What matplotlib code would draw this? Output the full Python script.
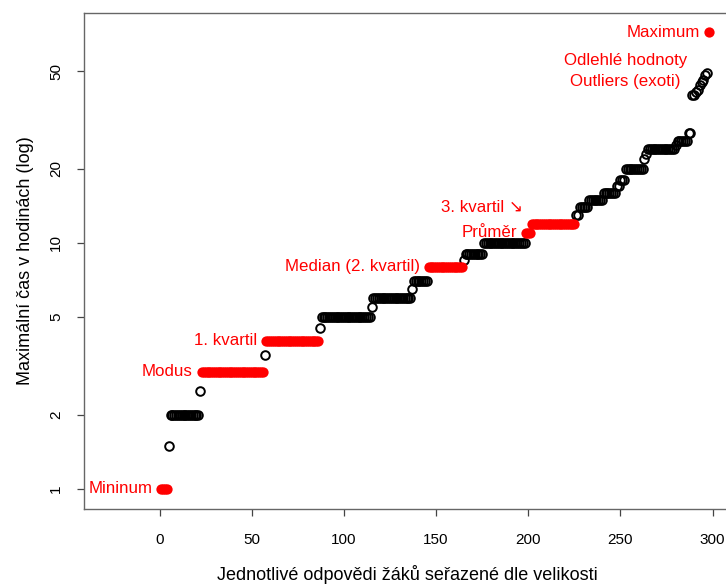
import numpy as np
from matplotlib import pyplot as plt

# sorted answers: each value and how many pupils gave it
values = [1, 1.5, 2, 2.5, 3, 3.5, 4, 4.5, 5, 5.5, 6, 6.5, 7, 8, 8.5, 9, 10, 11, 12,
          13, 14, 15, 16, 17, 18, 20, 22, 23, 24, 25, 26, 28,
          40, 41, 42, 44, 45, 46, 48, 49, 72]
counts = [4, 1, 16, 1, 34, 1, 29, 1, 27, 1, 21, 1, 8, 19, 1, 10, 23, 3, 24,
          2, 5, 8, 7, 2, 3, 10, 1, 1, 15, 1, 6, 2,
          2, 1, 1, 1, 1, 1, 1, 1, 1]

# highlighted values (red) and their labels
highlight = [1, 3, 4, 8, 11, 12, 72]
labels = {1: "Mininum", 3: "Modus", 4: "1. kvartil", 8: "Median (2. kvartil)",
          11: "Průměr", 72: "Maximum"}

yticks = [1, 2, 5, 10, 20, 50]
xticks = [0, 50, 100, 150, 200, 250, 300]

plt.rcParams['font.family'] = ['Liberation Sans', 'DejaVu Sans']

data = np.repeat(values, counts)
index = np.arange(1, len(data) + 1)
isRed = np.isin(data, highlight)

fig = plt.figure(figsize=(7.26, 5.87), dpi=100)
ax = fig.add_axes([84 / 726, 1 - 509 / 587, (731 - 84) / 726, (509 - 13) / 587])

ax.plot(index[~isRed], data[~isRed], 'o', mfc='none', mec='black', ms=6.2, mew=1.4)
ax.plot(index[isRed], data[isRed], 'o', color='red', ms=7.4, mew=0)

ax.set_yscale('log')
ax.set_ylim(0.829, 86.1)
ax.set_xlim(-41, 310)
ax.set_yticks(yticks)
ax.set_yticklabels([str(t) for t in yticks], rotation=90, va='center')
ax.minorticks_off()
ax.set_xticks(xticks)
ax.tick_params(axis='both', length=5, width=0.9, color='#444444', labelsize=11, pad=12)
ax.tick_params(axis='y', pad=10)

for s in ax.spines.values():
    s.set_color('#666666')
    s.set_linewidth(1)

ax.set_xlabel("Jednotlivé odpovědi žáků seřazené dle velikosti", fontsize=13, labelpad=13)
ax.set_ylabel("Maximální čas v hodinách (log)", fontsize=13, labelpad=11)

# labels left of the first point of each highlighted value
for v, txt in labels.items():
    first = index[data == v][0]
    ax.annotate(txt, xy=(first, v), xytext=(-9, 0), textcoords='offset pixels',
                ha='right', va='center', color='red', fontsize=12.2)

q3 = index[data == 12][0]
ax.annotate("3. kvartil ↘", xy=(q3, 12), xytext=(-9, 16), textcoords='offset pixels',
            ha='right', va='center', color='red', fontsize=12.2)

outFirst = index[data == 40][0]
ax.annotate("Odlehlé hodnoty\nOutliers (exoti)", xy=(outFirst, 40), xytext=(-5, 24),
            textcoords='offset pixels', ha='right', va='center', multialignment='center',
            color='red', fontsize=12.2, linespacing=1.5)

fig.savefig("out.png", dpi=100)
